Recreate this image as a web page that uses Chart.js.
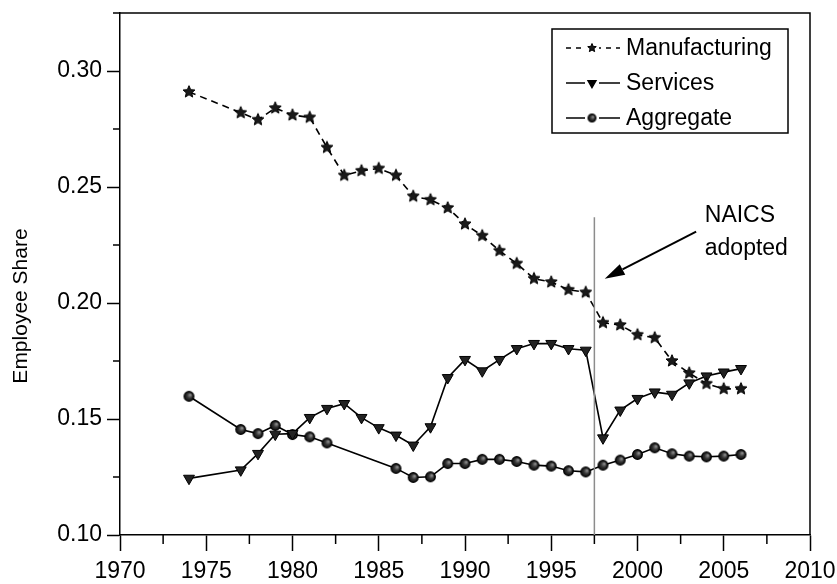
<!DOCTYPE html>
<html>
<head>
<meta charset="utf-8">
<script src="https://cdn.jsdelivr.net/npm/chart.js@4.4.1/dist/chart.umd.min.js"></script>
<style>
    html, body { margin: 0; padding: 0; background: #fff; }
    #wrap { width: 837px; height: 584px; }
</style>
</head>
<body>
<div id="wrap"><canvas id="shareChart"></canvas></div>
<script>
// Employee share by sector
const mfgYears = [1974, 1977, 1978, 1979, 1980, 1981, 1982, 1983, 1984, 1985, 1986, 1987, 1988, 1989, 1990,
    1991, 1992, 1993, 1994, 1995, 1996, 1997, 1998, 1999, 2000, 2001, 2002, 2003, 2004, 2005, 2006];
const mfgShare = [0.291, 0.282, 0.279, 0.284, 0.281, 0.280, 0.267, 0.255, 0.257, 0.258, 0.255, 0.246, 0.2445, 0.241, 0.234,
    0.229, 0.2225, 0.217, 0.2105, 0.209, 0.2057, 0.2046, 0.1915, 0.1905, 0.1863, 0.185, 0.175, 0.1698, 0.1652, 0.163, 0.163];

const svcYears = mfgYears;
const svcShare = [0.1244, 0.128, 0.1351, 0.1434, 0.1437, 0.1506, 0.1545, 0.1566, 0.1506, 0.1462, 0.143, 0.1387, 0.1466, 0.1678, 0.1756,
    0.1707, 0.1756, 0.1803, 0.1825, 0.1825, 0.1803, 0.1796, 0.1418, 0.1538, 0.1588, 0.1616, 0.1606, 0.1655, 0.1685, 0.1702, 0.1717];

const aggYears = [1974, 1977, 1978, 1979, 1980, 1981, 1982, 1986, 1987, 1988, 1989, 1990,
    1991, 1992, 1993, 1994, 1995, 1996, 1997, 1998, 1999, 2000, 2001, 2002, 2003, 2004, 2005, 2006];
const aggShare = [0.1598, 0.1455, 0.1437, 0.1472, 0.1433, 0.1423, 0.1397, 0.1287, 0.1248, 0.1251, 0.1308, 0.1308,
    0.1326, 0.1326, 0.1317, 0.1301, 0.1297, 0.1277, 0.1272, 0.1301, 0.1323, 0.1347, 0.1376, 0.135, 0.134, 0.1337, 0.134, 0.1347];

const seriesNames = ['Manufacturing', 'Services', 'Aggregate'];
const xTickYears = [1970, 1975, 1980, 1985, 1990, 1995, 2000, 2005, 2010];
const yTickValues = [0.10, 0.15, 0.20, 0.25, 0.30];
const naicsYear = 1997.5;

const FONT = 'Liberation Sans, Arial, Helvetica, sans-serif';

function toPoints(xs, ys) {
    return xs.map((x, i) => ({ x: x, y: ys[i] }));
}

// filled star marker
function makeStar(r) {
    const s = Math.ceil(r * 2 + 3);
    const c = document.createElement('canvas');
    c.width = c.height = s;
    const g = c.getContext('2d');
    g.beginPath();
    for (let i = 0; i < 10; i++) {
        const rr = i % 2 ? r * 0.45 : r;
        const a = -Math.PI / 2 + i * Math.PI / 5;
        g.lineTo(s / 2 + rr * Math.cos(a), s / 2 + rr * Math.sin(a));
    }
    g.closePath();
    g.fillStyle = '#1a1a1a';
    g.fill();
    g.strokeStyle = '#000';
    g.lineWidth = 1;
    g.stroke();
    return c;
}

// shaded ball marker
function makeBall(r) {
    const s = Math.ceil(r * 2 + 3);
    const c = document.createElement('canvas');
    c.width = c.height = s;
    const g = c.getContext('2d');
    const grad = g.createRadialGradient(s / 2 + r * 0.3, s / 2 - r * 0.3, 0.5, s / 2, s / 2, r);
    grad.addColorStop(0, '#8a8a8a');
    grad.addColorStop(0.5, '#333');
    grad.addColorStop(1, '#111');
    g.beginPath();
    g.arc(s / 2, s / 2, r, 0, Math.PI * 2);
    g.fillStyle = grad;
    g.fill();
    g.strokeStyle = '#000';
    g.lineWidth = 1.3;
    g.stroke();
    return c;
}

const starBig = makeStar(6.3);
const starSmall = makeStar(4.5);
const ballBig = makeBall(4.8);
const ballSmall = makeBall(3.8);

// minor ticks, frame, y title, NAICS note, boxed legend
const decorPlugin = {
    id: 'decor',
    afterDraw(chart) {
        const ctx = chart.ctx;
        const area = chart.chartArea;
        const xs = chart.scales.x;
        const ys = chart.scales.y;
        ctx.save();
        ctx.strokeStyle = '#000';
        ctx.lineWidth = 1.5;

        // frame
        ctx.beginPath();
        ctx.moveTo(area.left, area.top);
        ctx.lineTo(area.right, area.top);
        ctx.lineTo(area.right, area.bottom);
        ctx.stroke();

        // minor ticks
        ctx.beginPath();
        for (let v = 1972.5; v < 2010; v += 5) {
            const px = xs.getPixelForValue(v);
            ctx.moveTo(px, area.bottom);
            ctx.lineTo(px, area.bottom + 9);
        }
        for (let v = 0.125; v <= 0.3251; v += 0.05) {
            const py = ys.getPixelForValue(v);
            ctx.moveTo(area.left, py);
            ctx.lineTo(area.left - 7, py);
        }
        ctx.stroke();

        // y title
        ctx.save();
        ctx.translate(21, 306);
        ctx.rotate(-Math.PI / 2);
        ctx.fillStyle = '#000';
        ctx.font = '21px ' + FONT;
        ctx.textAlign = 'center';
        ctx.textBaseline = 'middle';
        ctx.fillText('Employee Share', 0, 0);
        ctx.restore();

        // NAICS line
        const nx = xs.getPixelForValue(naicsYear);
        ctx.strokeStyle = '#8c8c8c';
        ctx.lineWidth = 1.5;
        ctx.beginPath();
        ctx.moveTo(nx, ys.getPixelForValue(0.237));
        ctx.lineTo(nx, area.bottom);
        ctx.stroke();

        // arrow
        const ax0 = xs.getPixelForValue(2003.4), ay0 = ys.getPixelForValue(0.2308);
        const ax1 = xs.getPixelForValue(1998.1), ay1 = ys.getPixelForValue(0.2105);
        const ang = Math.atan2(ay1 - ay0, ax1 - ax0);
        const hl = 20, hw = 6;
        const bx = ax1 - hl * Math.cos(ang), by = ay1 - hl * Math.sin(ang);
        ctx.strokeStyle = '#000';
        ctx.lineWidth = 2;
        ctx.beginPath();
        ctx.moveTo(ax0, ay0);
        ctx.lineTo(bx, by);
        ctx.stroke();
        ctx.fillStyle = '#000';
        ctx.beginPath();
        ctx.moveTo(ax1, ay1);
        ctx.lineTo(bx + hw * Math.sin(ang), by - hw * Math.cos(ang));
        ctx.lineTo(bx - hw * Math.sin(ang), by + hw * Math.cos(ang));
        ctx.closePath();
        ctx.fill();

        ctx.font = '23px ' + FONT;
        ctx.textAlign = 'left';
        ctx.textBaseline = 'alphabetic';
        const tx = xs.getPixelForValue(2003.9);
        ctx.fillText('NAICS', tx, 222);
        ctx.fillText('adopted', tx, 255);

        // legend box
        const lx = area.right - 258, ly = area.top + 16;
        ctx.lineWidth = 1.5;
        ctx.strokeRect(lx, ly, 236, 104);
        const rows = [
            { ds: 0, y: ly + 19 },
            { ds: 1, y: ly + 54 },
            { ds: 2, y: ly + 89 }
        ];
        rows.forEach(row => {
            const ds = chart.data.datasets[row.ds];
            ctx.save();
            ctx.strokeStyle = '#000';
            ctx.lineWidth = 1.5;
            ctx.setLineDash(ds.borderDash ? [5, 5] : []);
            ctx.beginPath();
            ctx.moveTo(lx + 14, row.y);
            ctx.lineTo(lx + 68, row.y);
            ctx.stroke();
            ctx.setLineDash([]);
            ctx.fillStyle = '#fff';
            ctx.fillRect(lx + 33, row.y - 6, 14, 12);
            ctx.restore();
            Chart.helpers.drawPoint(ctx, {
                pointStyle: ds.legendMarker,
                rotation: ds.pointRotation || 0,
                radius: 4.5,
                borderWidth: 1
            }, lx + 40, row.y);
            ctx.fillStyle = '#000';
            ctx.font = '23px ' + FONT;
            ctx.textBaseline = 'middle';
            ctx.fillText(ds.label, lx + 74, row.y + 1);
        });
        ctx.restore();
    }
};

const ctx = document.getElementById('shareChart').getContext('2d');
const shareChart = new Chart(ctx, {
    type: 'line',
    data: {
        datasets: [
            {
                label: seriesNames[0],
                data: toPoints(mfgYears, mfgShare),
                borderColor: '#000',
                borderWidth: 1.6,
                borderDash: [7, 5],
                pointStyle: starBig,
                legendMarker: starSmall,
                pointRadius: 6,
                backgroundColor: '#1a1a1a',
                fill: false,
                tension: 0
            },
            {
                label: seriesNames[1],
                data: toPoints(svcYears, svcShare),
                borderColor: '#000',
                borderWidth: 1.6,
                pointStyle: 'triangle',
                legendMarker: 'triangle',
                pointRotation: 180,
                pointRadius: 6.3,
                pointBackgroundColor: '#222',
                pointBorderColor: '#000',
                pointBorderWidth: 1,
                fill: false,
                tension: 0
            },
            {
                label: seriesNames[2],
                data: toPoints(aggYears, aggShare),
                borderColor: '#000',
                borderWidth: 1.6,
                pointStyle: ballBig,
                legendMarker: ballSmall,
                pointRadius: 5,
                fill: false,
                tension: 0
            }
        ]
    },
    options: {
        responsive: true,
        maintainAspectRatio: false,
        animation: false,
        layout: { padding: { top: 13, right: 27, left: 0, bottom: 0 } },
        plugins: {
            legend: { display: false },
            tooltip: { enabled: false }
        },
        scales: {
            x: {
                type: 'linear',
                min: 1970,
                max: 2010,
                afterFit(scale) {
                    scale.height = 49;
                    scale.paddingLeft = 0;
                    scale.paddingRight = 0;
                },
                afterBuildTicks(scale) { scale.ticks = xTickYears.map(v => ({ value: v })); },
                ticks: {
                    stepSize: 5,
                    color: '#000',
                    font: { family: FONT, size: 23 },
                    padding: 7,
                    maxRotation: 0,
                    callback: v => String(v)
                },
                grid: {
                    drawOnChartArea: false,
                    drawTicks: true,
                    tickLength: 16,
                    tickColor: '#000',
                    tickWidth: 1.5
                },
                border: { display: true, color: '#000', width: 1.5 }
            },
            y: {
                type: 'linear',
                min: 0.10,
                max: 0.325,
                afterFit(scale) {
                    scale.width = 120;
                    scale.paddingTop = 0;
                    scale.paddingBottom = 0;
                },
                afterBuildTicks(scale) { scale.ticks = yTickValues.map(v => ({ value: v })); },
                ticks: {
                    stepSize: 0.05,
                    includeBounds: false,
                    color: '#000',
                    font: { family: FONT, size: 23 },
                    padding: 5,
                    callback: v => v.toFixed(2)
                },
                grid: {
                    drawOnChartArea: false,
                    drawTicks: true,
                    tickLength: 13,
                    tickColor: '#000',
                    tickWidth: 1.5
                },
                border: { display: true, color: '#000', width: 1.5 }
            }
        }
    },
    plugins: [decorPlugin]
});
</script>
</body>
</html>
